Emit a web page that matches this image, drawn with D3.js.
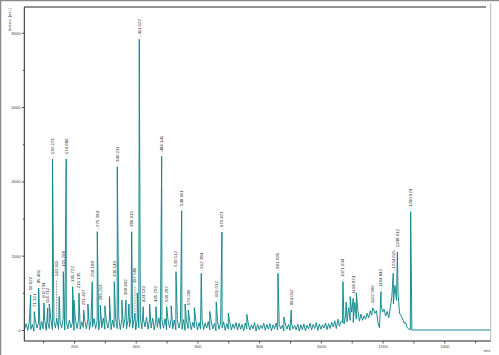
<!DOCTYPE html>
<html><head><meta charset="utf-8">
<script src="https://cdn.jsdelivr.net/npm/d3@7"></script>
<style>html,body{margin:0;padding:0;background:#fff;overflow:hidden}</style>
</head><body>
<svg id="c" width="499" height="355"></svg>
<script>
// ---------- data ----------
// baseline/noise profile, one value every 5 m/z starting at m/z 40
const profileStartMz = 40;
const profileStepMz = 5;
const profile = [
  30, 170, -10, 210, 20, 150, -30, 240, 50, 190, 0, 230, 30, 260, -10, 200, 40, 280, 10, 230,
  50, 260, 20, 210, 60, 290, 0, 230, 30, 270, 60, 200, -10, 250, 40, 300, 20, 220, 70, 260,
  30, 290, 10, 240, 80, 310, 40, 250, 0, 280, 60, 320, 20, 240, 50, 300, 10, 270, 70, 300,
  40, 330, 10, 290, 60, 320, 30, 260, 80, 350, 50, 300, 0, 280, 60, 320, 30, 290, 80, 340,
  20, 290, 50, 320, 0, 270, 70, 330, 30, 280, 50, 310, 10, 250, 60, 300, 30, 270, 0, 280,
  50, 240, 20, 280, -10, 220, 40, 260, 10, 210, 60, 250, 0, 200, 30, 270, 10, 190, 50, 230,
  0, 210, 30, 180, -20, 240, 20, 190, 50, 220, -10, 170, 30, 200, 0, 160, 40, 200, 0, 180,
  20, 150, -20, 190, 30, 160, 0, 140, 30, 200, -30, 150, 10, 130, 40, 180, -10, 150, 20, 170,
  -20, 140, 30, 190, 0, 150, 30, 130, -30, 160, 20, 150, -10, 180, 30, 120, 0, 160, -30, 140,
  10, 160, -20, 130, 30, 180, 0, 150, 40, 200, -10, 160, 20, 140, 50, 190, 10, 170, 40, 210,
  80, 250, 40, 290, 100, 230, 200, 160, 380, 220, 600, 260, 480, 200, 740, 290, 520, 240, 430, 260,
  380, 290, 450, 330, 520, 400, 580, 450, 520, 200, 60, 700, 480, 560, 380, 500, 330, 600, 900, 700,
  1200, 800, 1000, 450, 380, 300, 180, 200, 60, 30, 0, 0, 0
];
const tailMz = [1550];
const tailInt = [0];

// unlabeled spikes
const spikeMz  = [120, 152, 200, 245, 300, 315, 355, 378, 405, 445, 515, 560, 590, 640, 700, 760, 880, 1082, 1095, 1115];
const spikeInt = [700, 900, 800, 700, 650, 900, 800, 700, 1000, 700, 650, 700, 600, 500, 450, 420, 350, 750, 900, 1000];

// labelled peaks
const peakMz = [59.6, 71.3, 85.5, 102.7, 114.7, 130.3, 143.9, 165.3, 174.7, 195.7, 216.1, 231.4, 259.2, 275.4, 285.2,
  330.5, 340.2, 368.4, 386.9, 397.6, 411.5, 424.5, 465.7, 484.1, 500.3, 530.5, 548.9, 570.3, 612.4, 661.0, 679.5,
  861.0, 904.0, 1071.6, 1104.9, 1167.9, 1194.8, 1234.6, 1248.0, 1291.0];
const peakInt = [942, 493, 1130, 727, 592, 4603, 320, 1570, 4603, 1165, 996, 538, 1300, 2646, 673,
  1300, 4396, 808, 2646, 458, 7825, 627, 627, 4676, 627, 1570, 3211, 538, 1526, 762, 2638,
  1526, 538, 1300, 853, 592, 1031, 1526, 2100, 3184];
const peakLabel = ["59.622","71.321","85.491","102.734","114.712","130.273","143.915","165.298","174.689","195.722",
  "216.135","231.427","259.188","275.394","285.213","330.540","340.211","368.402","386.915","397.586",
  "411.522","424.533","465.702","484.141","500.287","530.512","548.901","570.296","612.384","661.012",
  "679.473","861.035","904.012","1071.634","1104.874","1167.906","1194.842","1234.615","1248.012","1290.974"];
// intensity level at which a label is lifted (null = just above the peak)
const peakLabelLevel = [null,null,null,null,null,null,1346,null,null,null,null,null,null,null,null,
  null,null,null,null,1157,null,null,null,null,null,null,null,null,null,null,null,
  null,null,null,null,null,null,null,null,null];

const xMajor = [200, 400, 600, 800, 1000, 1200, 1400];
const xMinor = [100, 300, 500, 700, 900, 1100, 1300, 1500];
const yMajor = [0, 2000, 4000, 6000, 8000];
const yMinor = [1000, 3000, 5000, 7000];
const yTitle = "Intens. [a.u.]";
const xTitle = "m/z";

// ---------- chart ----------
const svg = d3.select("#c");
const FONT = "'Liberation Sans', Arial, sans-serif";
const L = 24.3, R = 490.7, T = 7, B = 341;
const x = d3.scaleLinear().domain([38.9, 1550.4]).range([L, R]);
const y = d3.scaleLinear().domain([-296, 8694]).range([B, T]);

// outer image border (top/left)
svg.append("line").attr("x1",0).attr("x2",499).attr("y1",0.5).attr("y2",0.5).attr("stroke","#8a8a8a").attr("stroke-width",1.5);
svg.append("line").attr("x1",0.5).attr("x2",0.5).attr("y1",0).attr("y2",355).attr("stroke","#8a8a8a").attr("stroke-width",1.5);

svg.append("defs").append("clipPath").attr("id","clip")
  .append("rect").attr("x",L).attr("y",T).attr("width",R-L).attr("height",B-T);

// spectrum points
const pts = [];
profile.forEach((v,i)=>pts.push({mz: profileStartMz + i*profileStepMz, v}));
tailMz.forEach((m,i)=>pts.push({mz:m, v:tailInt[i]}));
spikeMz.forEach((m,i)=>pts.push({mz:m, v:spikeInt[i]}));
peakMz.forEach((m,i)=>pts.push({mz:m, v:peakInt[i]}));
pts.sort((a,b)=>a.mz-b.mz);

const g = svg.append("g").attr("clip-path","url(#clip)");
g.append("path").datum(pts)
  .attr("d", d3.line().x(d=>x(d.mz)).y(d=>y(d.v)))
  .attr("fill","none").attr("stroke","#10868a").attr("stroke-width",0.95).attr("stroke-linejoin","miter");

// peak labels
const lab = svg.append("g").attr("font-family",FONT).attr("font-size",4.4).attr("fill","#333");
peakMz.forEach((m,i)=>{
  const px = x(m);
  const lvl = peakLabelLevel[i];
  let base = y(peakInt[i]) - 2;
  if (lvl !== null) {
    const ly = y(lvl);
    svg.append("line").attr("x1",px).attr("x2",px).attr("y1",y(peakInt[i])-1).attr("y2",ly)
      .attr("stroke","#333").attr("stroke-width",0.7).attr("stroke-dasharray","0.8,0.8");
    base = ly - 1;
  }
  lab.append("text").attr("transform",`translate(${px+1.5},${base}) rotate(-90)`)
    .attr("text-anchor","start").text("- " + peakLabel[i]);
});

// frame
svg.append("line").attr("x1",L).attr("x2",486).attr("y1",T).attr("y2",T).attr("stroke","#222").attr("stroke-width",1);
svg.append("line").attr("x1",L).attr("x2",L).attr("y1",T).attr("y2",B).attr("stroke","#222").attr("stroke-width",1);
svg.append("line").attr("x1",R).attr("x2",R).attr("y1",3).attr("y2",B).attr("stroke","#b5b5b5").attr("stroke-width",1);
svg.append("line").attr("x1",L).attr("x2",R).attr("y1",B).attr("y2",B).attr("stroke","#222").attr("stroke-width",1);

// axes
function styleAxis(sel){
  sel.select(".domain").remove();
  sel.selectAll("line").attr("stroke","#333").attr("stroke-width",0.8);
  sel.selectAll("text").attr("font-family",FONT).attr("font-size",4.2).attr("fill","#444");
}
svg.append("g").attr("transform",`translate(${L},0)`)
  .call(d3.axisLeft(y).tickValues(yMajor).tickSize(2.6).tickPadding(1).tickFormat(d3.format("d"))).call(styleAxis);
svg.append("g").attr("transform",`translate(${L},0)`)
  .call(d3.axisLeft(y).tickValues(yMinor).tickSize(1.5).tickFormat("")).call(styleAxis);
svg.append("g").attr("transform",`translate(0,${B})`)
  .call(d3.axisBottom(x).tickValues(xMajor).tickSize(2.5).tickPadding(1.2).tickFormat(d3.format("d"))).call(styleAxis);
svg.append("g").attr("transform",`translate(0,${B})`)
  .call(d3.axisBottom(x).tickValues(xMinor).tickSize(2.5).tickFormat("")).call(styleAxis);

svg.append("text").attr("transform","translate(11,8) rotate(-90)").attr("text-anchor","end")
  .attr("font-family",FONT).attr("font-size",4.2).attr("fill","#444").text(yTitle);
svg.append("text").attr("x",487).attr("y",351.5).attr("text-anchor","middle")
  .attr("font-family",FONT).attr("font-size",4.2).attr("fill","#444").text(xTitle);
</script>
</body></html>
